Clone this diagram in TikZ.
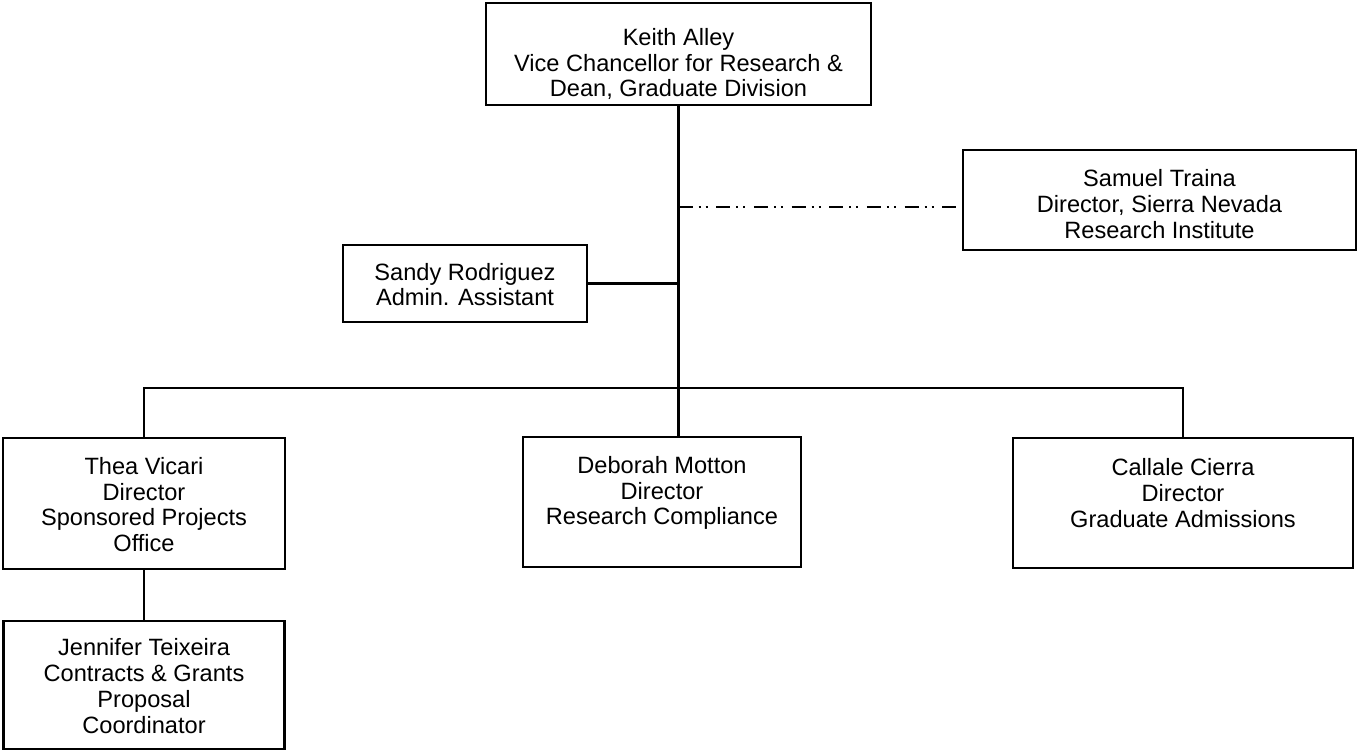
\documentclass[tikz,border=0pt]{standalone}
\usepackage{fontspec}
\setmainfont{Liberation Sans}

\tikzset{every picture/.style={line width=1.6pt}}
\tikzset{
  post/.style={draw, rectangle, inner sep=0pt},
  txt/.style={align=center, inner sep=0pt, font=\fontsize{17.7}{19.3}\selectfont},
  liaison/.style={dash pattern=on 10.5pt off 4.5pt on 1.5pt off 3.75pt on 1.5pt off 6.5pt}
}

\begin{document}
\begin{tikzpicture}[x=0.75pt,y=0.75pt,yscale=-1,xscale=1]
\useasboundingbox (0,0) rectangle (1365,752);

% boxes
\node [post, minimum width=288.75pt, minimum height=76.5pt] (keith) at (678.5,54) {};
\node [post, minimum width=294.75pt, minimum height=75pt] (samuel) at (1159.5,200) {};
\node [post, minimum width=183pt, minimum height=57.75pt] (sandy) at (465,283.5) {};
\node [post, minimum width=211.5pt, minimum height=98.25pt] (thea) at (144,503.5) {};
\node [post, minimum width=210.75pt, minimum height=96pt] (jennifer) at (144,685) {};
\node [post, minimum width=208.5pt, minimum height=97.5pt] (deborah) at (662,502) {};
\node [post, minimum width=255pt, minimum height=97.5pt] (callale) at (1183,503) {};

% texts
\node [txt] (keith-t) at (678.5,64) {Keith Alley\\Vice Chancellor for Research \&\\Dean, Graduate Division};
\node [txt] (samuel-t) at (1159.5,204) {Samuel Traina\\Director, Sierra Nevada\\Research Institute};
\node [txt] (sandy-t) at (465,284.5) {Sandy Rodriguez\\Admin. Assistant};
\node [txt] (thea-t) at (144,504.5) {Thea Vicari\\Director\\Sponsored Projects\\Office};
\node [txt] (jennifer-t) at (144,686) {Jennifer Teixeira\\Contracts \& Grants\\Proposal\\Coordinator};
\node [txt] (deborah-t) at (662,493) {Deborah Motton\\Director\\Research Compliance};
\node [txt] (callale-t) at (1183,493) {Callale Cierra\\Director\\Graduate Admissions};

\coordinate (bus) at (678.5,388);
\coordinate (dashend) at (963,207);

% lines
\draw (keith.south) -- (keith.south |- deborah.north);
\draw (sandy.east) -- (sandy.east -| keith.south);
\draw (thea.north) |- (bus) -| (callale.north);
\draw (thea.south) -- (jennifer.north);
\draw [liaison] (keith.south |- dashend) -- (dashend);

\end{tikzpicture}
\end{document}
